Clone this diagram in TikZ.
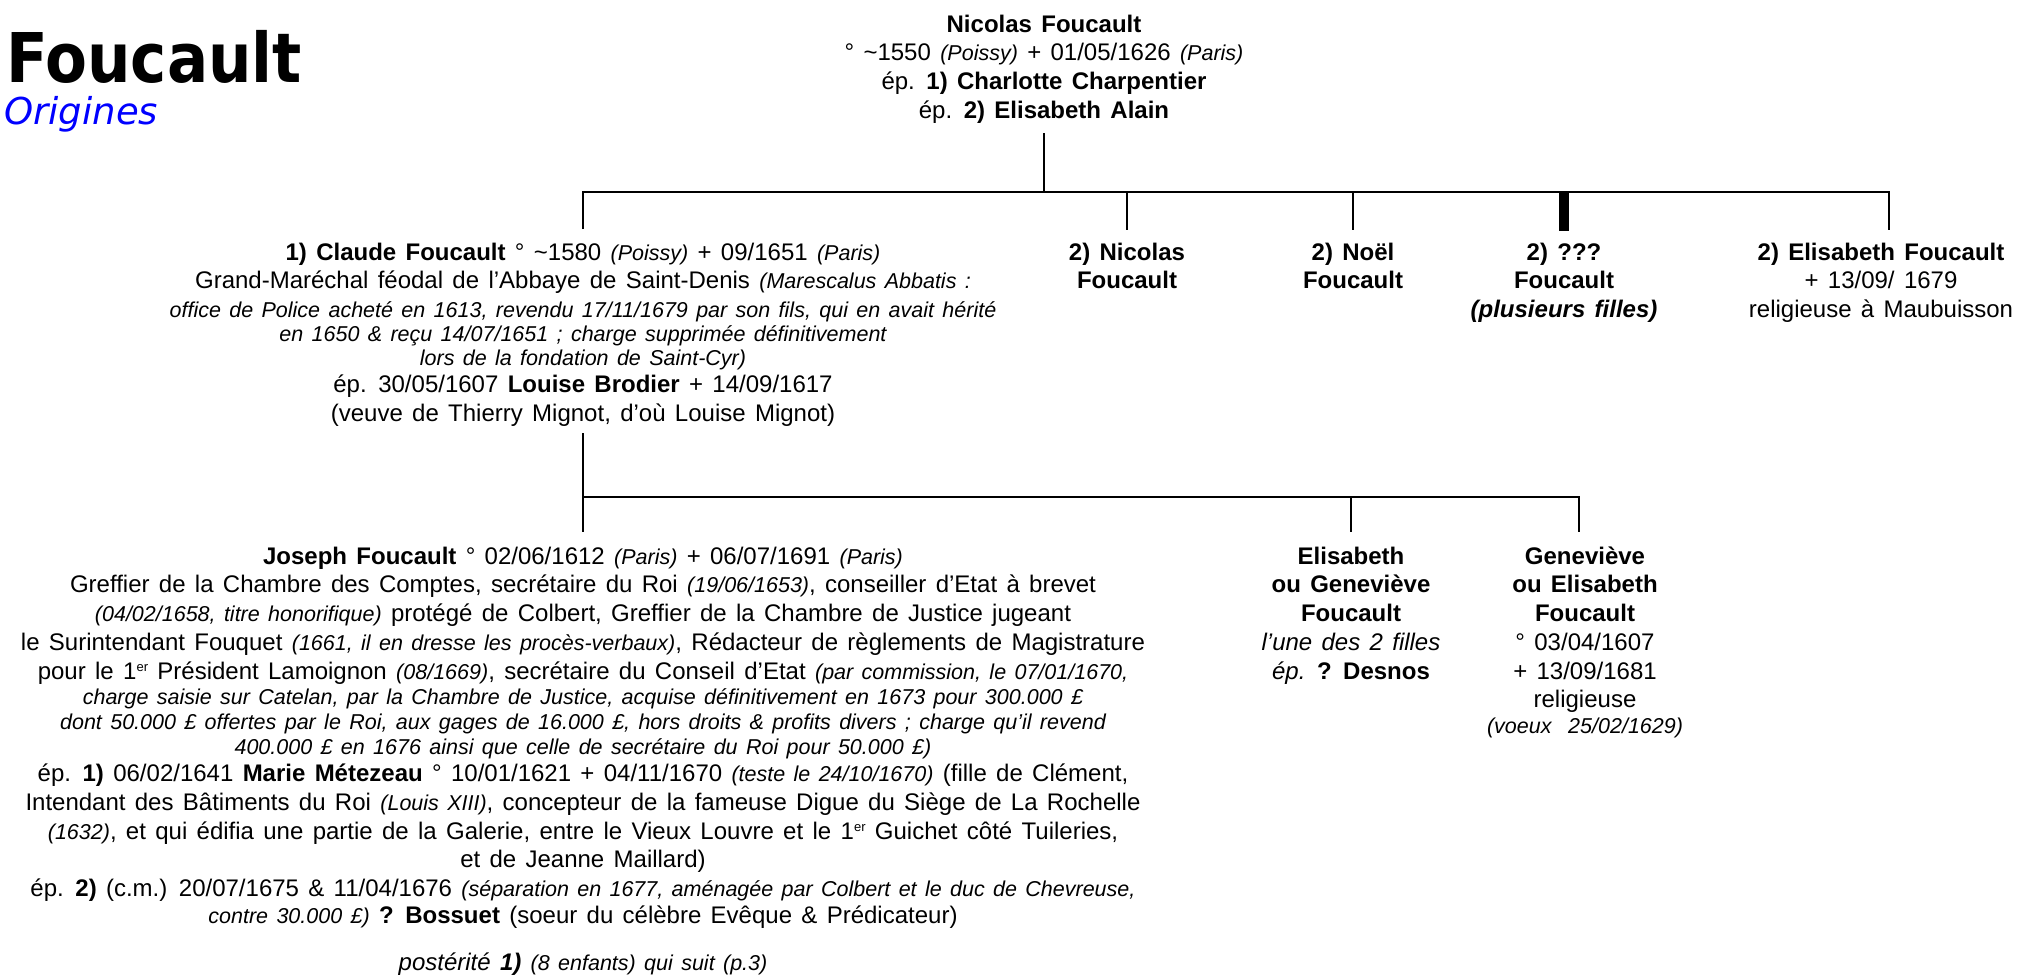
\documentclass[tikz,border=0pt]{standalone}
\usepackage{fontspec}
\setmainfont{Liberation Sans}[WordSpace=1.4]
\newfontfamily\titlefont{DejaVu Sans}[FakeStretch=0.89]
\newfontfamily\subfont{DejaVu Sans}
\definecolor{subblue}{RGB}{0,0,255}
\newcommand\smit[1]{{\fontsize{21.5}{24}\selectfont\itshape #1}}
\newcommand\fl{\rule{0pt}{22pt}}
\newcommand\erx{{\fontsize{13}{13}\selectfont\raisebox{8pt}{er}}}
\tikzset{
  person/.style={align=center, inner sep=0pt, anchor=north, yshift=22pt,
    font=\fontsize{24}{28.7}\selectfont},
  link/.style={line width=2pt},
  bar/.style={line width=2.5pt, line join=miter},
  thickdrop/.style={line width=10pt},
}
\begin{document}
\begin{tikzpicture}[x=1pt,y=-1pt]
\useasboundingbox (0,0) rectangle (2021,977);

% title
\node[anchor=base west, inner sep=0pt] (title) at (6,82)
  {\titlefont\bfseries\fontsize{68.6}{80}\selectfont Foucault};
\node[anchor=base west, inner sep=0pt, text=subblue] (sub) at (4,124)
  {\subfont\itshape\fontsize{37}{44}\selectfont Origines};

% generation 1
\node[person] (nic) at (1044,32) {\fl\textbf{Nicolas Foucault}\\
° \textasciitilde1550 \smit{(Poissy)} + 01/05/1626 \smit{(Paris)}\\
ép. \textbf{1) Charlotte Charpentier}\\
ép. \textbf{2) Elisabeth Alain}};

% generation 2
\node[person] (claude) at (583,260) {\fl\textbf{1) Claude Foucault} ° \textasciitilde1580 \smit{(Poissy)} + 09/1651 \smit{(Paris)}\\
Grand-Maréchal féodal de l’Abbaye de Saint-Denis \smit{(Marescalus Abbatis :}\\
\smit{office de Police acheté en 1613, revendu 17/11/1679 par son fils, qui en avait hérité}\\[-5pt]
\smit{en 1650 \& reçu 14/07/1651 ; charge supprimée définitivement}\\[-4.5pt]
\smit{lors de la fondation de Saint-Cyr)}\\[-1.5pt]
ép. 30/05/1607 \textbf{Louise Brodier} + 14/09/1617\\
(veuve de Thierry Mignot, d’où Louise Mignot)};

\node[person] (nic2) at (1127,260) {\fl\textbf{2) Nicolas}\\\textbf{Foucault}};
\node[person] (noel) at (1353,260) {\fl\textbf{2) Noël}\\\textbf{Foucault}};
\node[person] (filles) at (1564,260) {\fl\textbf{2) ???}\\\textbf{Foucault}\\\textbf{\itshape (plusieurs filles)}};
\node[person] (elis) at (1881,260) {\fl\textbf{2) Elisabeth Foucault}\\+ 13/09/ 1679\\religieuse à Maubuisson};

% generation 3
\node[person] (joseph) at (583,564) {\fl\textbf{Joseph Foucault} ° 02/06/1612 \smit{(Paris)} + 06/07/1691 \smit{(Paris)}\\
Greffier de la Chambre des Comptes, secrétaire du Roi \smit{(19/06/1653)}, conseiller d’Etat à brevet\\
\smit{(04/02/1658, titre honorifique)} protégé de Colbert, Greffier de la Chambre de Justice jugeant\\
le Surintendant Fouquet \smit{(1661, il en dresse les procès-verbaux)}, Rédacteur de règlements de Magistrature\\
pour le 1\erx{} Président Lamoignon \smit{(08/1669)}, secrétaire du Conseil d’Etat \smit{(par commission, le 07/01/1670,}\\[-3pt]
\smit{charge saisie sur Catelan, par la Chambre de Justice, acquise définitivement en 1673 pour 300.000 £}\\[-4pt]
\smit{dont 50.000 £ offertes par le Roi, aux gages de 16.000 £, hors droits \& profits divers ; charge qu’il revend}\\[-4pt]
\smit{400.000 £ en 1676 ainsi que celle de secrétaire du Roi pour 50.000 £)}\\[-1pt]
ép. \textbf{1)} 06/02/1641 \textbf{Marie Métezeau} ° 10/01/1621 + 04/11/1670 \smit{(teste le 24/10/1670)} (fille de Clément,\\
Intendant des Bâtiments du Roi \smit{(Louis XIII)}, concepteur de la fameuse Digue du Siège de La Rochelle\\
\smit{(1632)}, et qui édifia une partie de la Galerie, entre le Vieux Louvre et le 1\erx{} Guichet côté Tuileries,\\
et de Jeanne Maillard)\\
ép. \textbf{2)} (c.m.) 20/07/1675 \& 11/04/1676 \smit{(séparation en 1677, aménagée par Colbert et le duc de Chevreuse,}\\[-2pt]
\smit{contre 30.000 £)} \textbf{? Bossuet} (soeur du célèbre Evêque \& Prédicateur)};
\node[person] (post) at (583,970) {\fl\textit{postérité \textbf{1)}} \smit{(8 enfants) qui suit (p.3)}};

\node[person] (eli) at (1351,564) {\fl\textbf{Elisabeth}\\\textbf{ou Geneviève}\\\textbf{Foucault}\\\textit{l’une des 2 filles}\\\textit{ép.} \textbf{? Desnos}};
\node[person] (gen) at (1585,564) {\fl\textbf{Geneviève}\\\textbf{ou Elisabeth}\\\textbf{Foucault}\\° 03/04/1607\\+ 13/09/1681\\religieuse\\[-3pt]\smit{(voeux\ \ 25/02/1629)}};

% connectors generation 1 -> 2
\coordinate (n0) at (1044,133);
\coordinate (b0) at (1044,192);
\coordinate (d1) at (583,229);
\coordinate (d2) at (1127,230);
\coordinate (d3) at (1353,230);
\coordinate (d4) at (1564,231);
\coordinate (d5) at (1889,230);
\draw[link] (n0) -- (b0);
\draw[bar] (d1) |- (b0) -| (d5);
\draw[link] (d2 |- b0) -- (d2);
\draw[link] (d3 |- b0) -- (d3);
\draw[thickdrop] (d4 |- b0) -- (d4);

% connectors generation 2 -> 3
\coordinate (c0) at (583,433);
\coordinate (b1) at (583,497);
\coordinate (e1) at (583,532);
\coordinate (e2) at (1351,532);
\coordinate (e3) at (1579,532);
\draw[link] (c0) -- (e1);
\draw[bar] (b1) -| (e3);
\draw[link] (e2 |- b1) -- (e2);
\end{tikzpicture}
\end{document}
